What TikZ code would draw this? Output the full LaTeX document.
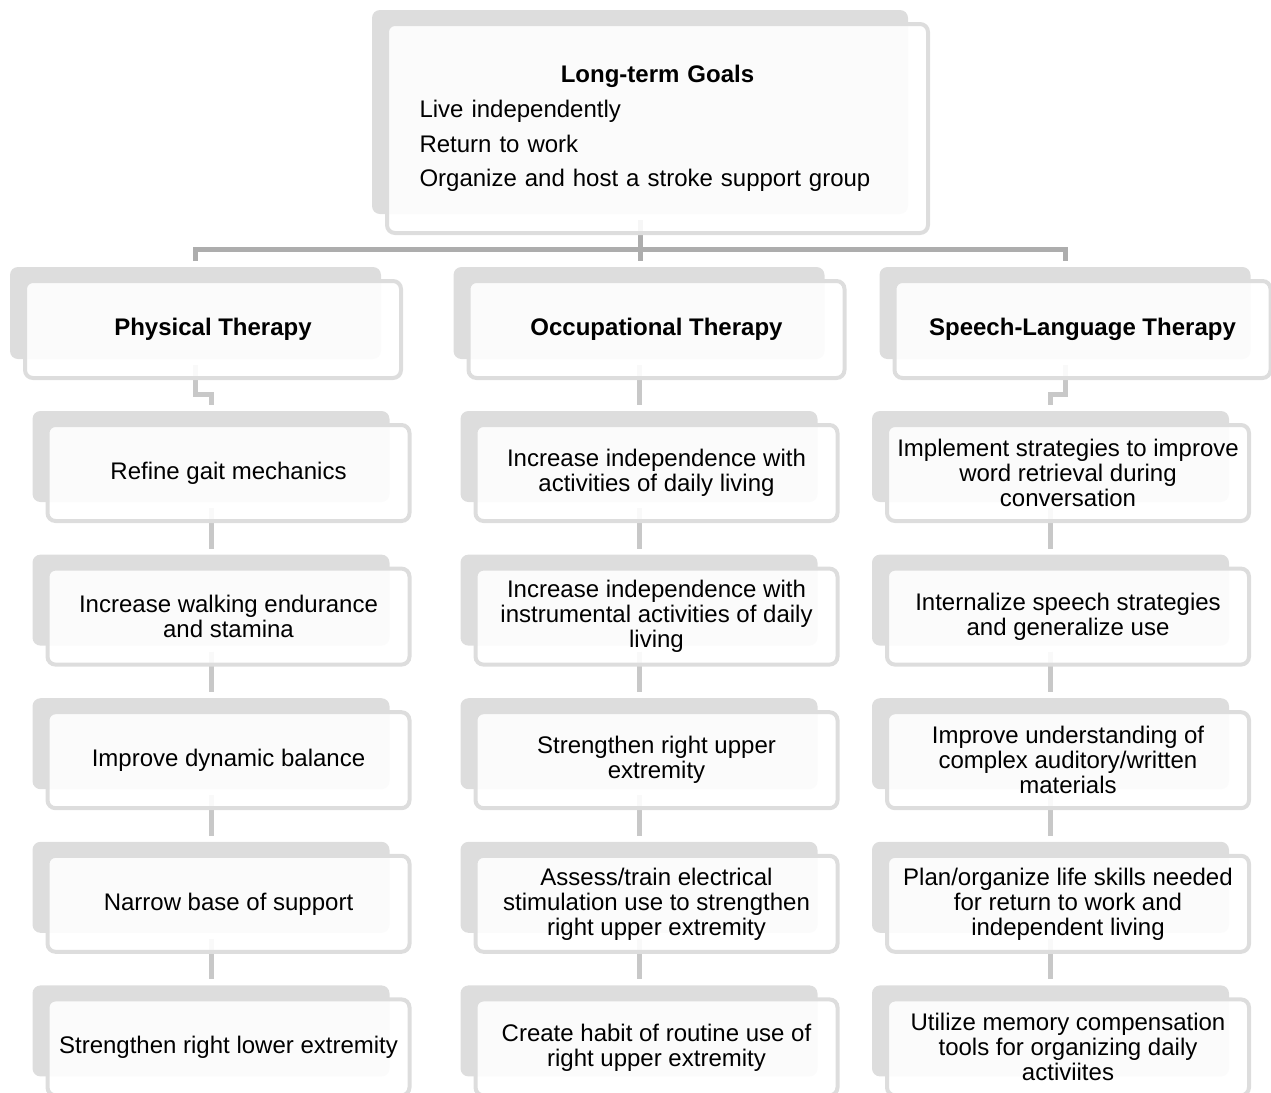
\documentclass[tikz,border=0pt]{standalone}
\usepackage{fontspec}
\setmainfont{Liberation Sans}
\pgfdeclarelayer{bg}
\pgfdeclarelayer{back}
\pgfsetlayers{bg,back,main}
\definecolor{boxgray}{HTML}{DDDDDD}
\definecolor{linkdark}{HTML}{ADADAD}
\definecolor{linklight}{HTML}{C8C8C8}
\tikzset{
  front/.style={draw=boxgray, line width=2pt, fill=white, fill opacity=0.9, text opacity=1,
    rounded corners=4pt, outer sep=0pt, align=center, inner sep=2pt,
    font=\fontsize{12}{12.5}\selectfont},
  head/.style={front, minimum width=188pt, minimum height=48.5pt, font=\fontsize{12}{12.5}\selectfont\bfseries},
  goal/.style={front, minimum width=181pt, minimum height=48pt},
  trunk/.style={linkdark, line width=2.5pt},
  twig/.style={linklight, line width=2.5pt}
}
\begin{document}
\begin{tikzpicture}[x=0.5pt,y=-0.5pt]
    \useasboundingbox (0,0) rectangle (1271,1093);
    \node[front, text width=238pt, align=left, inner xsep=16.25pt, inner ysep=0pt, minimum height=104.5pt,
      font=\fontsize{12}{17.3}\selectfont] (top) at (657.5,128.5)
      {\makebox[\hsize]{\textbf{Long-term Goals}}\\Live independently\\Return to work\\Organize and host a stroke support group};

    \node[head] (pt) at (213,329.5) {Physical Therapy};
    \node[head] (ot) at (656.5,329.5) {Occupational Therapy};
    \node[head] (slt) at (1082.5,329.5) {Speech-Language Therapy};

    \foreach \txt [count=\i] in {{Refine gait mechanics},{Increase walking endurance\\and stamina},
      {Improve dynamic balance},{Narrow base of support},{Strengthen right lower extremity}}
      \node[goal] (pt\i) at (228.5,{473+143.6*(\i-1)}) {\txt};
    \foreach \txt [count=\i] in {{Increase independence with\\activities of daily living},
      {Increase independence with\\instrumental activities of daily\\living},{Strengthen right upper\\extremity},
      {Assess/train electrical\\stimulation use to strengthen\\right upper extremity},
      {Create habit of routine use of\\right upper extremity}}
      \node[goal] (ot\i) at (656.5,{473+143.6*(\i-1)}) {\txt};
    \foreach \txt [count=\i] in {{Implement strategies to improve\\word retrieval during\\conversation},
      {Internalize speech strategies\\and generalize use},{Improve understanding of\\complex auditory/written\\materials},
      {Plan/organize life skills needed\\for return to work and\\independent living},
      {Utilize memory compensation\\tools for organizing daily\\activiites}}
      \node[goal] (slt\i) at (1068,{473+143.6*(\i-1)}) {\txt};

    \foreach \n in {top,pt,ot,slt,pt1,pt2,pt3,pt4,pt5,ot1,ot2,ot3,ot4,ot5,slt1,slt2,slt3,slt4,slt5}{
      \coordinate (\n-in) at ([shift={(-17.5,-20)}]\n.north);
      \coordinate (\n-out) at ([shift={(-17.5,-13)}]\n.south);
      \begin{pgfonlayer}{back}
        \fill[boxgray, rounded corners=4pt] ([shift={(-15,-14)}]\n.north west) rectangle ([shift={(-20,-19)}]\n.south east);
      \end{pgfonlayer}
    } % gray card behind each box

    \begin{pgfonlayer}{bg}
      \draw[trunk] (top-out) -- (top-out |- ot-in);
      \draw[trunk] (pt-in) -- ++(0,-12) -| (slt-in);
      \foreach \c in {pt,ot,slt}{
        \draw[twig] (\c-out) -- ++(0,29) -| (\c1-in);
        \foreach \i [evaluate=\i as \j using int(\i+1)] in {1,...,4}
          \draw[twig] (\c\i-out) -- (\c\j-in);
      }
    \end{pgfonlayer}
\end{tikzpicture}
\end{document}
